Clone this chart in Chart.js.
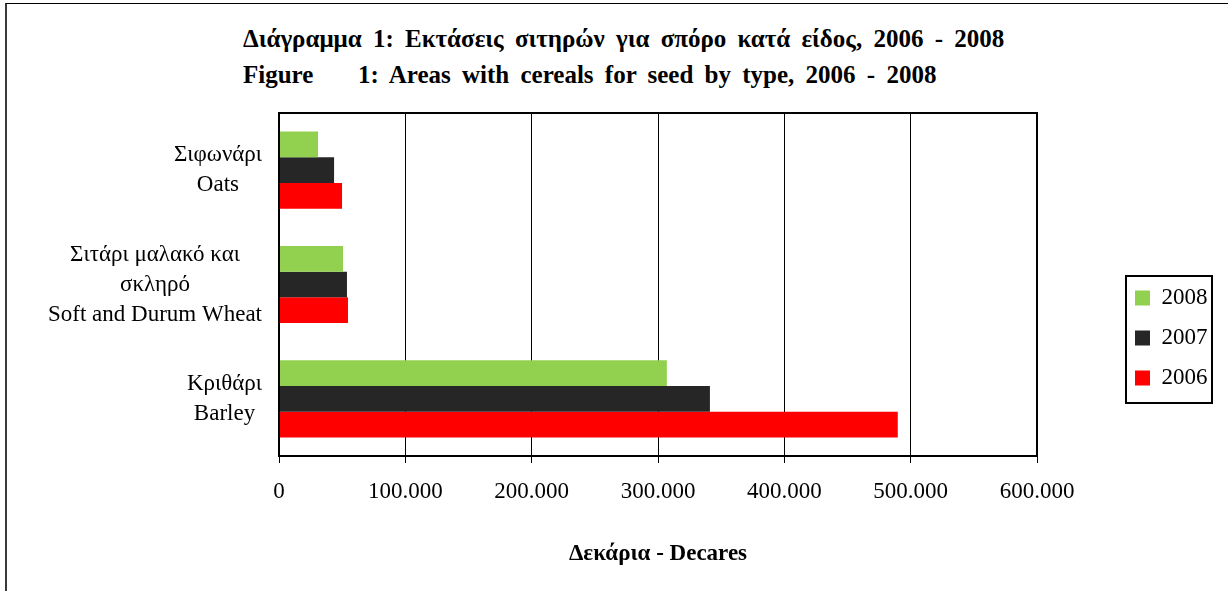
<!DOCTYPE html>
<html>
<head>
<meta charset="utf-8">
<script src="https://cdn.jsdelivr.net/npm/chart.js@4"></script>
<style>
  body { margin: 0; background: #fff; overflow: hidden; }
  #frame { position: absolute; left: 5px; top: 3px; width: 1400px; height: 800px;
           border-left: 2px solid #3a3a3a; border-top: 1px solid #000; }
  #title { position: absolute; left: 243px; top: 21px; font: bold 25px 'Liberation Serif', 'Times New Roman', serif;
           line-height: 36px; word-spacing: 5px; color: #000; white-space: nowrap; }
  #title .lead { display: inline-block; width: 115px; }
  #wrap { position: absolute; left: 0; top: 0; }
</style>
</head>
<body>
<div id="frame"></div>
<div id="title">
  <div>Διάγραμμα 1: Εκτάσεις σιτηρών για σπόρο κατά είδος, 2006 - 2008</div>
  <div><span class="lead">Figure</span>1: Areas with cereals for seed by type, 2006 - 2008</div>
</div>
<div id="wrap"><canvas id="mychart_bar" width="1228" height="591"></canvas></div>
<script>
// データ
var categories = [
  ['Σιφωνάρι', 'Oats'],
  ['Σιτάρι μαλακό και', 'σκληρό', 'Soft and Durum Wheat'],
  ['Κριθάρι', 'Barley']
];
var years = ['2008', '2007', '2006'];
var data2008 = [30900, 50700, 307000];
var data2007 = [43600, 53800, 341100];
var data2006 = [49900, 54600, 489800];
var xTicks = [0, 100000, 200000, 300000, 400000, 500000, 600000];
var colors = ['#92D050', '#262626', '#FF0000'];

var serif = "'Liberation Serif', 'Times New Roman', serif";

// 100000 -> 100.000
function fmt(v) {
  return String(v).replace(/\B(?=(\d{3})+(?!\d))/g, '.');
}

// カテゴリラベル（各ブロック内で中央揃え）
var categoryLabels = {
  id: 'categoryLabels',
  afterDraw: function(chart) {
    var ctx = chart.ctx;
    var yScale = chart.scales.y;
    var right = chart.chartArea.left - 17;
    ctx.save();
    ctx.font = '23px ' + serif;
    ctx.fillStyle = '#000';
    ctx.textAlign = 'center';
    ctx.textBaseline = 'middle';
    chart.data.labels.forEach(function(lines, i) {
      var maxW = 0;
      lines.forEach(function(t) { maxW = Math.max(maxW, ctx.measureText(t).width); });
      var cx = right - maxW / 2;
      var cy = yScale.getPixelForValue(i);
      lines.forEach(function(t, j) {
        ctx.fillText(t, cx, cy + (j - (lines.length - 1) / 2) * 30);
      });
    });
    ctx.restore();
  }
};

// プロットエリアの枠と凡例の枠
var frames = {
  id: 'frames',
  afterDatasetsDraw: function(chart) {
    var a = chart.chartArea;
    var ctx = chart.ctx;
    ctx.save();
    ctx.strokeStyle = '#000';
    ctx.lineWidth = 2;
    ctx.strokeRect(a.left, a.top, a.right - a.left, a.bottom - a.top);
    ctx.restore();
  },
  afterDraw: function(chart) {
    var hb = chart.legend.legendHitBoxes;
    if (!hb || !hb.length) return;
    var first = hb[0];
    var last = hb[hb.length - 1];
    var x0 = first.left - 9;
    var y0 = first.top - 10.5;
    var x1 = first.left + first.width + 4.5;
    var y1 = last.top + last.height + 13.5;
    var ctx = chart.ctx;
    ctx.save();
    ctx.strokeStyle = '#000';
    ctx.lineWidth = 2;
    ctx.strokeRect(x0, y0, x1 - x0, y1 - y0);
    ctx.restore();
  }
};

var ctx_bar = document.getElementById('mychart_bar');
var myChart = new Chart(ctx_bar, {
  type: 'bar',
  data: {
    labels: categories,
    datasets: [{
      label: years[0],
      data: data2008,
      backgroundColor: colors[0],
      yAxisID: 'y',
    }, {
      label: years[1],
      data: data2007,
      backgroundColor: colors[1],
      yAxisID: 'y',
    }, {
      label: years[2],
      data: data2006,
      backgroundColor: colors[2],
      yAxisID: 'y',
    }],
  },
  options: {
    indexAxis: 'y',
    responsive: false,
    animation: false,
    categoryPercentage: 0.675,
    barPercentage: 1,
    layout: {
      padding: { top: 113, left: 0, right: 10.5, bottom: 28 },
    },
    scales: {
      x: {
        type: 'linear',
        position: 'bottom',
        min: 0,
        max: 600000,
        afterBuildTicks: function(scale) {
          scale.ticks = xTicks.map(function(v) { return { value: v }; });
        },
        afterFit: function(scale) { scale.height = 107; },
        ticks: {
          color: '#000',
          padding: 15,
          maxRotation: 0,
          font: { family: serif, size: 23 },
          callback: function(v) { return fmt(v); },
        },
        grid: {
          color: '#000',
          lineWidth: 1,
          drawTicks: true,
          tickLength: 7,
          tickColor: '#000',
        },
        border: { display: true, color: '#000', width: 2 },
        title: {
          display: true,
          text: 'Δεκάρια - Decares',
          color: '#000',
          font: { family: serif, size: 23, weight: 'bold', lineHeight: 0.8 },
          padding: { top: 0, bottom: 0 },
        },
      },
      y: {
        type: 'category',
        position: 'left',
        afterFit: function(scale) { scale.width = 279; },
        ticks: { display: false },
        grid: { display: false },
        border: { display: true, color: '#000', width: 2 },
      },
      // 凡例との間隔用
      yR: {
        type: 'linear',
        position: 'right',
        afterFit: function(scale) { scale.width = 81; },
        ticks: { display: false },
        grid: { display: false },
        border: { display: false },
      },
    },
    plugins: {
      legend: {
        position: 'right',
        labels: {
          boxWidth: 15,
          boxHeight: 15,
          padding: 17,
          color: '#000',
          font: { family: serif, size: 23 },
        },
      },
      tooltip: { enabled: false },
    },
  },
  plugins: [categoryLabels, frames],
});
</script>
</body>
</html>
